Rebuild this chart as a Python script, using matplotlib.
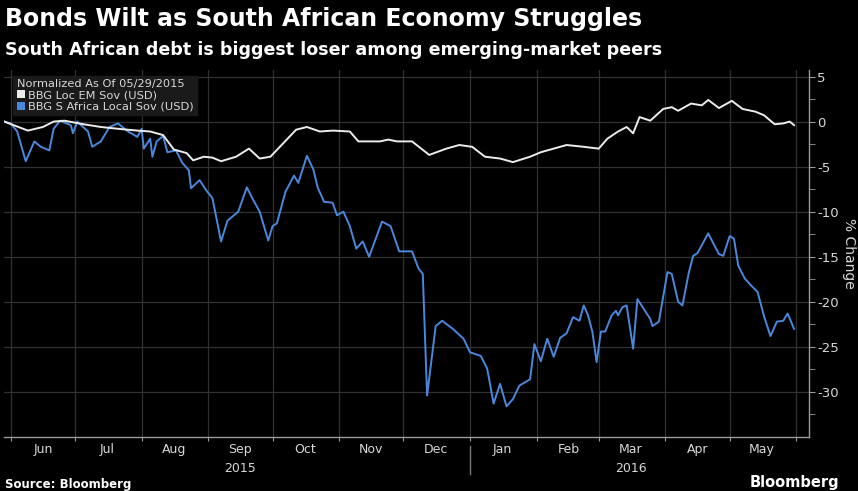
import pandas as pd
import matplotlib
matplotlib.use("Agg")
import matplotlib.pyplot as plt
from matplotlib.patches import Patch

# BBG Loc EM Sov (USD), % change since 05/29/2015
em_dates = ["2015-05-29", "2015-06-09", "2015-06-16", "2015-06-21", "2015-06-26", "2015-07-05",
            "2015-07-13", "2015-07-21", "2015-07-30", "2015-08-05", "2015-08-11", "2015-08-16",
            "2015-08-22", "2015-08-25", "2015-08-30", "2015-09-03", "2015-09-07", "2015-09-14",
            "2015-09-20", "2015-09-25", "2015-09-30", "2015-10-06", "2015-10-12", "2015-10-17",
            "2015-10-23", "2015-10-29", "2015-11-06", "2015-11-10", "2015-11-20", "2015-11-24",
            "2015-11-28", "2015-12-05", "2015-12-13", "2015-12-21", "2015-12-27", "2016-01-02",
            "2016-01-08", "2016-01-15", "2016-01-21", "2016-01-29", "2016-02-03", "2016-02-09",
            "2016-02-15", "2016-02-23", "2016-03-01", "2016-03-05", "2016-03-10", "2016-03-14",
            "2016-03-17", "2016-03-20", "2016-03-25", "2016-03-31", "2016-04-04", "2016-04-07",
            "2016-04-13", "2016-04-18", "2016-04-21", "2016-04-26", "2016-05-02", "2016-05-07",
            "2016-05-13", "2016-05-17", "2016-05-22", "2016-05-26", "2016-05-29", "2016-05-31"]
em_vals = [0.0, -1.0, -0.6, 0.0, 0.1, -0.3,
           -0.6, -0.8, -1.0, -1.1, -1.5, -3.1,
           -3.5, -4.3, -3.9, -4.0, -4.4, -3.9,
           -3.0, -4.1, -3.9, -2.4, -0.9, -0.6,
           -1.1, -1.0, -1.1, -2.2, -2.2, -2.0,
           -2.2, -2.2, -3.7, -3.0, -2.6, -2.8,
           -3.9, -4.1, -4.5, -3.9, -3.4, -3.0,
           -2.6, -2.8, -3.0, -1.9, -1.1, -0.6,
           -1.3, 0.5, 0.1, 1.4, 1.6, 1.2,
           2.0, 1.8, 2.4, 1.5, 2.3, 1.4,
           1.1, 0.7, -0.3, -0.2, 0.0, -0.4]

# BBG S Africa Local Sov (USD), % change since 05/29/2015
za_dates = ["2015-05-29", "2015-06-01", "2015-06-04", "2015-06-08", "2015-06-12", "2015-06-15",
            "2015-06-19", "2015-06-21", "2015-06-24", "2015-06-29", "2015-06-30", "2015-07-02",
            "2015-07-07", "2015-07-09", "2015-07-13", "2015-07-17", "2015-07-21", "2015-07-25",
            "2015-07-30", "2015-08-01", "2015-08-02", "2015-08-05", "2015-08-06", "2015-08-08",
            "2015-08-11", "2015-08-13", "2015-08-17", "2015-08-20", "2015-08-23", "2015-08-24",
            "2015-08-28", "2015-08-31", "2015-09-03", "2015-09-07", "2015-09-10", "2015-09-15",
            "2015-09-19", "2015-09-22", "2015-09-25", "2015-09-29", "2015-10-01", "2015-10-03",
            "2015-10-07", "2015-10-11", "2015-10-13", "2015-10-17", "2015-10-20", "2015-10-22",
            "2015-10-25", "2015-10-29", "2015-10-31", "2015-11-03", "2015-11-06", "2015-11-09",
            "2015-11-12", "2015-11-15", "2015-11-21", "2015-11-25", "2015-11-29", "2015-12-05",
            "2015-12-08", "2015-12-10", "2015-12-12", "2015-12-16", "2015-12-19", "2015-12-24",
            "2015-12-29", "2016-01-01", "2016-01-06", "2016-01-09", "2016-01-12", "2016-01-15",
            "2016-01-18", "2016-01-21", "2016-01-24", "2016-01-29", "2016-01-31", "2016-02-03",
            "2016-02-06", "2016-02-09", "2016-02-12", "2016-02-15", "2016-02-18", "2016-02-21",
            "2016-02-23", "2016-02-25", "2016-02-27", "2016-02-29", "2016-03-02", "2016-03-04",
            "2016-03-07", "2016-03-09", "2016-03-10", "2016-03-12", "2016-03-14", "2016-03-15",
            "2016-03-17", "2016-03-19", "2016-03-22", "2016-03-25", "2016-03-26", "2016-03-29",
            "2016-04-02", "2016-04-04", "2016-04-07", "2016-04-09", "2016-04-12", "2016-04-14",
            "2016-04-16", "2016-04-21", "2016-04-24", "2016-04-26", "2016-04-28", "2016-05-01",
            "2016-05-03", "2016-05-05", "2016-05-08", "2016-05-11", "2016-05-14", "2016-05-17",
            "2016-05-20", "2016-05-23", "2016-05-26", "2016-05-28", "2016-05-31"]
za_vals = [0.0, -0.2, -1.1, -4.4, -2.2, -2.8,
           -3.2, -0.8, 0.1, -0.4, -1.3, 0.0,
           -1.1, -2.8, -2.2, -0.6, -0.2, -1.0,
           -1.7, -0.8, -3.0, -1.9, -3.9, -2.2,
           -1.6, -3.4, -3.2, -4.6, -5.4, -7.4,
           -6.5, -7.6, -8.5, -13.3, -11.0, -10.0,
           -7.3, -8.7, -10.0, -13.2, -11.6, -11.3,
           -7.8, -6.0, -6.8, -3.8, -5.3, -7.3,
           -8.9, -9.0, -10.4, -10.0, -11.6, -14.1,
           -13.3, -15.0, -11.1, -11.6, -14.4, -14.4,
           -16.3, -16.9, -30.4, -22.7, -22.1, -23.0,
           -24.1, -25.6, -26.0, -27.4, -31.3, -29.1,
           -31.6, -30.8, -29.3, -28.6, -24.7, -26.6,
           -24.1, -26.1, -24.0, -23.5, -21.7, -22.1,
           -20.4, -21.5, -23.3, -26.7, -23.3, -23.3,
           -21.5, -21.0, -21.5, -20.6, -20.4, -22.0,
           -25.2, -19.7, -20.8, -21.9, -22.7, -22.2,
           -16.7, -16.9, -20.0, -20.4, -16.7, -14.9,
           -14.6, -12.4, -13.8, -14.7, -14.9, -12.7,
           -13.0, -16.0, -17.4, -18.2, -18.9, -21.6,
           -23.8, -22.2, -22.1, -21.3, -23.0]

y_ticks = [5, 0, -5, -10, -15, -20, -25, -30]
month_labels = ["Jun", "Jul", "Aug", "Sep", "Oct", "Nov", "Dec", "Jan", "Feb", "Mar", "Apr", "May"]
year_labels = ["2015", "2016"]

bg = "black"
grid_col = "#303030"
axis_col = "#9a9a9a"
txt_col = "#d8d8d8"
white_col = "#ececec"
blue_col = "#4a88dc"

fig = plt.figure(figsize=(8.58, 4.91), dpi=100, facecolor=bg)
ax = fig.add_axes([0.005, 0.11, 0.938, 0.747], facecolor=bg)

em_x = pd.to_datetime(em_dates)
za_x = pd.to_datetime(za_dates)
ax.plot(za_x, za_vals, color=blue_col, lw=1.4, zorder=3)
ax.plot(em_x, em_vals, color=white_col, lw=1.4, zorder=4)

ax.set_xlim(pd.Timestamp("2015-05-29"), pd.Timestamp("2016-06-07"))
ax.set_ylim(-35, 5.7)

# month boundaries as gridlines, labels in the middle of each month
month_starts = pd.date_range("2015-06-01", "2016-06-01", freq="MS")
month_mids = month_starts[:-1] + pd.Timedelta(days=15)
ax.set_xticks(month_starts)
ax.set_xticklabels([])
ax.set_xticks(month_mids, minor=True)
ax.set_xticklabels(month_labels, minor=True)
ax.tick_params(axis="x", which="major", length=3, color=axis_col, direction="out")
ax.tick_params(axis="x", which="minor", length=0, labelsize=9, labelcolor=txt_col, pad=4)

ax.yaxis.tick_right()
ax.yaxis.set_label_position("right")
ax.set_yticks(y_ticks)
ax.set_yticklabels([str(t) for t in y_ticks])
ax.set_yticks([2.5, -2.5, -7.5, -12.5, -17.5, -22.5, -27.5, -32.5], minor=True)
ax.tick_params(axis="y", which="both", length=4, color=axis_col, direction="out",
               labelsize=9.5, labelcolor=txt_col, pad=2)
ax.set_ylabel("% Change", color=txt_col, fontsize=10, rotation=270, labelpad=12)

ax.grid(True, which="major", color=grid_col, lw=0.9)
for s in ["left", "top"]:
    ax.spines[s].set_visible(False)
for s in ["right", "bottom"]:
    ax.spines[s].set_color(axis_col)
    ax.spines[s].set_linewidth(1)

# year row
ax.text(pd.Timestamp("2015-09-16"), -0.085, year_labels[0], transform=ax.get_xaxis_transform(),
        ha="center", va="center", color=txt_col, fontsize=9)
ax.text(pd.Timestamp("2016-03-16"), -0.085, year_labels[1], transform=ax.get_xaxis_transform(),
        ha="center", va="center", color=txt_col, fontsize=9)
ax.plot([pd.Timestamp("2016-01-01")] * 2, [-0.025, -0.1], transform=ax.get_xaxis_transform(),
        color="#777777", lw=1, clip_on=False)

# legend
handles = [Patch(facecolor=white_col, label="BBG Loc EM Sov (USD)"),
           Patch(facecolor=blue_col, label="BBG S Africa Local Sov (USD)")]
leg = ax.legend(handles=handles, title="Normalized As Of 05/29/2015", loc="upper left",
                bbox_to_anchor=(0.004, 1.0), fontsize=8.2, title_fontsize=8.2,
                facecolor="#1a1a1a", edgecolor="#1a1a1a", framealpha=1, fancybox=False,
                handlelength=0.7, handleheight=0.7, handletextpad=0.3, labelspacing=0.1,
                borderpad=0.3, alignment="left", labelcolor=txt_col)
leg.get_title().set_color(txt_col)
leg.set_zorder(5)

fig.text(0.006, 0.962, "Bonds Wilt as South African Economy Struggles", color="white",
         fontsize=17, fontweight="bold", va="center", ha="left")
fig.text(0.006, 0.898, "South African debt is biggest loser among emerging-market peers",
         color="white", fontsize=12.6, fontweight="bold", va="center", ha="left")
fig.text(0.006, 0.014, "Source: Bloomberg", color="white", fontsize=8.5, fontweight="bold",
         va="center", ha="left")
fig.text(0.978, 0.018, "Bloomberg", color="white", fontsize=10.5, fontweight="bold",
         va="center", ha="right")

fig.savefig("out.png", dpi=100, facecolor=bg)
